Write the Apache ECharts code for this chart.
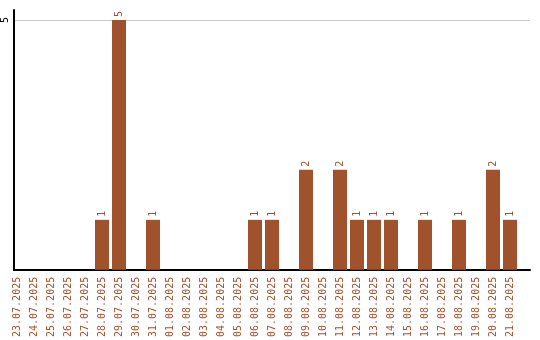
<!DOCTYPE html>
<html><head><meta charset="utf-8">
<script src="https://cdn.jsdelivr.net/npm/echarts@6/dist/echarts.min.js"></script>
<style>html,body{margin:0;padding:0;background:#fff}#c{width:540px;height:340px}</style>
</head><body><div id="c"></div>
<script>
const categories = ['23.07.2025','24.07.2025','25.07.2025','26.07.2025','27.07.2025','28.07.2025','29.07.2025','30.07.2025','31.07.2025','01.08.2025','02.08.2025','03.08.2025','04.08.2025','05.08.2025','06.08.2025','07.08.2025','08.08.2025','09.08.2025','10.08.2025','11.08.2025','12.08.2025','13.08.2025','14.08.2025','15.08.2025','16.08.2025','17.08.2025','18.08.2025','19.08.2025','20.08.2025','21.08.2025'];
const counts = [0,0,0,0,0,1,5,0,1,0,0,0,0,0,1,1,0,2,0,2,1,1,1,0,1,0,1,0,2,1];
const yTicks = [5];

const BROWN = '#a0522d';
const FONT = 'DejaVu Sans Mono';
const chart = echarts.init(document.getElementById('c'), null, {renderer:'canvas'});
chart.setOption({
  animation: false,
  grid: [
    {left: 8.5, right: 21.5, top: 10, bottom: 70},
    {left: 11, right: 10, top: 10, bottom: 70}
  ],
  xAxis: [
    {type: 'category', gridIndex: 0, data: categories, boundaryGap: true,
     axisLine: {show: false}, axisTick: {show: false},
     axisLabel: {interval: 0, rotate: 90, color: BROWN, fontFamily: FONT, fontSize: 10, margin: 7}},
    {type: 'value', gridIndex: 1, min: 0, max: 1,
     axisLine: {show: true, onZero: false, lineStyle: {color: '#000', width: 2}},
     axisTick: {show: false}, axisLabel: {show: false}, splitLine: {show: false}}
  ],
  yAxis: [
    {type: 'value', gridIndex: 0, min: 0, max: 5.2, show: false, splitLine: {show: false}},
    {type: 'value', gridIndex: 1, min: 0, max: 5.2, interval: 5,
     axisLine: {show: true, lineStyle: {color: '#000', width: 2}},
     axisTick: {show: false},
     splitLine: {show: true, showMinLine: false, showMaxLine: false, lineStyle: {color: '#cccccc', width: 1}},
     axisLabel: {rotate: 90, color: '#000', fontFamily: FONT, fontSize: 10, margin: 4,
       showMaxLabel: false,
       formatter: v => yTicks.includes(v) ? String(v) : ''}}
  ],
  series: [{
    type: 'bar', xAxisIndex: 0, yAxisIndex: 0, data: counts, barWidth: 14,
    itemStyle: {color: BROWN},
    label: {show: true, position: 'top', distance: 3, rotate: 90, align: 'left', verticalAlign: 'middle',
      color: BROWN, fontFamily: FONT, fontSize: 10,
      formatter: p => p.value ? String(p.value) : ''}
  }]
});
</script></body></html>
